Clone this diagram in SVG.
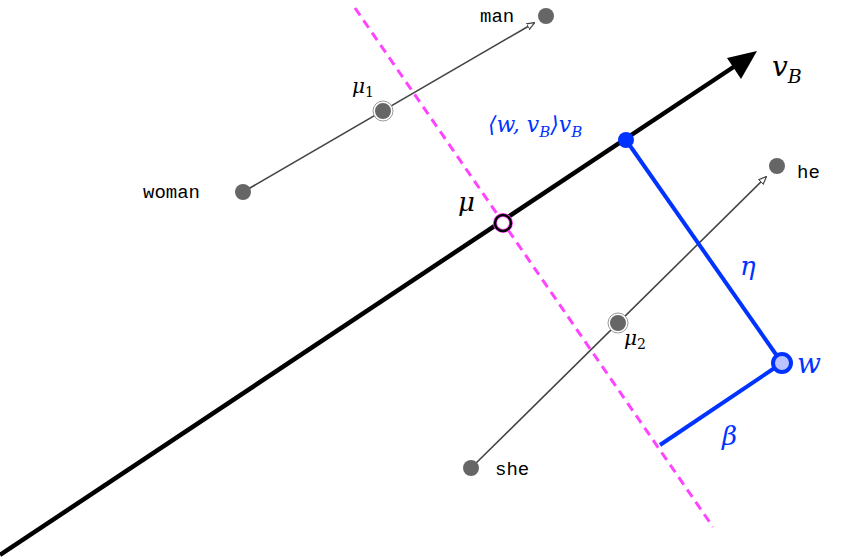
<svg xmlns="http://www.w3.org/2000/svg" width="841" height="559" viewBox="0 0 841 559">
<style>
.m{font-family:"DejaVu Serif","Liberation Serif",serif;font-style:italic}
.t{font-family:"Liberation Mono",monospace;font-size:19px;fill:#000}
.dot{fill:#666}
.thin{stroke:#444;stroke-width:1.6;fill:none}
</style>
<defs>
<marker id="oa" viewBox="0 0 10 10" refX="9" refY="5" markerWidth="8" markerHeight="8" markerUnits="userSpaceOnUse" orient="auto"><path d="M0,1 L10,5 L0,9 Z" fill="#fff" stroke="#444" stroke-width="1.5"/></marker>
</defs>
<g id="connectors">
<line x1="0" y1="555" x2="735" y2="66" stroke="#000" stroke-width="4.5"/>
<path d="M757,51 L727,58 L741,79 Z" fill="#000"/>
<line x1="355" y1="8" x2="713" y2="527" stroke="#ff44ff" stroke-width="3" stroke-dasharray="9,6"/>
<line x1="243" y1="192" x2="534" y2="23" class="thin" marker-end="url(#oa)"/>
<line x1="471" y1="468" x2="766" y2="177" class="thin" marker-end="url(#oa)"/>
<line x1="626" y1="140" x2="782" y2="363" stroke="#0033ff" stroke-width="4"/>
<line x1="782" y1="363" x2="660" y2="445" stroke="#0033ff" stroke-width="4"/>
</g>
<g id="man"><circle cx="546" cy="16" r="8" class="dot"/><text x="480" y="22" class="t">man</text></g>
<g id="woman"><circle cx="243" cy="192" r="8" class="dot"/><text x="143" y="198" class="t">woman</text></g>
<g id="he"><circle cx="777" cy="166" r="8" class="dot"/><text x="797" y="178" class="t">he</text></g>
<g id="she"><circle cx="471" cy="468" r="8" class="dot"/><text x="495" y="475" class="t">she</text></g>
<g id="mu1"><circle cx="383" cy="111" r="9" fill="#666" stroke="#fff" stroke-width="2"/><circle cx="383" cy="111" r="10" fill="none" stroke="#999" stroke-width="1"/><text x="352" y="93" class="m" font-size="20">μ<tspan font-size="14" font-style="normal" dy="4">1</tspan></text></g>
<g id="mu2"><circle cx="618" cy="323" r="9" fill="#666" stroke="#fff" stroke-width="2"/><circle cx="618" cy="323" r="10" fill="none" stroke="#999" stroke-width="1"/><text x="624" y="345" class="m" font-size="20">μ<tspan font-size="14" font-style="normal" dy="4">2</tspan></text></g>
<g id="mu"><circle cx="503" cy="223" r="8" fill="#fff" stroke="#ff44ff" stroke-width="4"/><circle cx="503" cy="223" r="8" fill="none" stroke="#000" stroke-width="2.5"/><text x="458" y="211" class="m" font-size="26">μ</text></g>
<g id="proj"><circle cx="626" cy="140" r="8" fill="#0033ff"/><text x="488" y="132" class="m" font-size="22" fill="#0033ff">⟨w, v<tspan font-size="15" dy="5">B</tspan><tspan dy="-5">⟩v</tspan><tspan font-size="15" dy="5">B</tspan></text></g>
<g id="vB"><text x="772" y="76" class="m" font-size="28">v<tspan font-size="19" dy="7">B</tspan></text></g>
<g id="w"><circle cx="782" cy="363" r="9" fill="#bbc4ff" stroke="#0033ff" stroke-width="4"/><text x="797" y="373" class="m" font-size="28" fill="#0033ff">w</text></g>
<text x="740" y="275" class="m" font-size="26" fill="#0033ff">η</text>
<text x="722" y="445" class="m" font-size="26" fill="#0033ff">β</text>
</svg>
